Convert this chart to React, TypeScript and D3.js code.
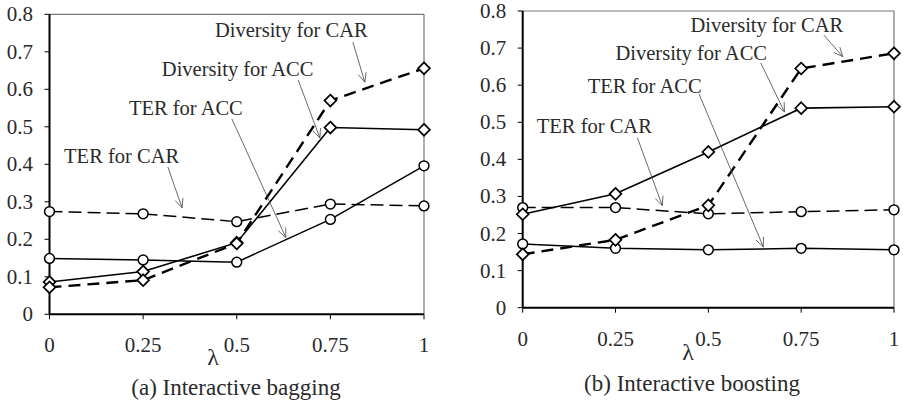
import React from "react";
import * as d3 from "d3";

// λ values on the x axis
const LAMBDA = [0, 0.25, 0.5, 0.75, 1];
const X_TICK_LABELS = ["0", "0.25", "0.5", "0.75", "1"];
const Y_TICKS = [0, 0.1, 0.2, 0.3, 0.4, 0.5, 0.6, 0.7, 0.8];
const Y_TICK_LABELS = ["0", "0.1", "0.2", "0.3", "0.4", "0.5", "0.6", "0.7", "0.8"];

// (a) Interactive bagging
const BAG_TER_CAR = [0.274, 0.268, 0.247, 0.294, 0.289];
const BAG_TER_ACC = [0.149, 0.145, 0.139, 0.253, 0.396];
const BAG_DIV_ACC = [0.086, 0.114, 0.191, 0.498, 0.492];
const BAG_DIV_CAR = [0.072, 0.091, 0.189, 0.57, 0.656];

// (b) Interactive boosting
const BOOST_TER_CAR = [0.27, 0.27, 0.253, 0.259, 0.264];
const BOOST_TER_ACC = [0.172, 0.16, 0.156, 0.16, 0.156];
const BOOST_DIV_ACC = [0.252, 0.307, 0.42, 0.538, 0.542];
const BOOST_DIV_CAR = [0.144, 0.183, 0.276, 0.645, 0.686];

const SERIES_NAMES = ["TER for CAR", "TER for ACC", "Diversity for ACC", "Diversity for CAR"];

// callout placement in data units: [text x, text y, arrow start x, y, arrow tip x, y]
const BAG_CALLOUTS = [
  [0.039, 0.403, 0.316, 0.393, 0.354, 0.284],
  [0.212, 0.531, 0.487, 0.521, 0.631, 0.205],
  [0.3, 0.635, 0.664, 0.625, 0.722, 0.47],
  [0.442, 0.739, 0.81, 0.726, 0.842, 0.619],
];
const BOOST_CALLOUTS = [
  [0.038, 0.471, 0.309, 0.458, 0.376, 0.275],
  [0.175, 0.579, 0.475, 0.576, 0.648, 0.164],
  [0.25, 0.668, 0.641, 0.66, 0.705, 0.528],
  [0.452, 0.743, 0.811, 0.735, 0.862, 0.677],
];

const FONT = "Liberation Serif, DejaVu Serif, Times New Roman, serif";
const TEXT = "#2a2a2a";

type Style = { dash: string | null; width: number; marker: "circle" | "diamond" };
const STYLES: Style[] = [
  { dash: "13,6", width: 1.5, marker: "circle" },
  { dash: null, width: 1.5, marker: "circle" },
  { dash: null, width: 1.6, marker: "diamond" },
  { dash: "12,7", width: 2.4, marker: "diamond" },
];

type PanelProps = {
  x0: number;
  x1: number;
  yTop: number;
  yBottom: number;
  series: number[][];
  callouts: number[][];
  title: string;
  titleX: number;
  titleY: number;
  lambdaX: number;
  lambdaY: number;
};

function Marker({ kind, cx, cy }: { kind: string; cx: number; cy: number }) {
  if (kind === "circle") {
    return <circle cx={cx} cy={cy} r={4.9} fill="#fff" stroke="#000" strokeWidth={1.5} />;
  }
  const s = 5.9;
  const d = `M${cx},${cy - s}L${cx + s},${cy}L${cx},${cy + s}L${cx - s},${cy}Z`;
  return <path d={d} fill="#fff" stroke="#000" strokeWidth={1.7} />;
}

function Panel(p: PanelProps) {
  const x = d3.scaleLinear().domain([0, 1]).range([p.x0, p.x1]);
  const y = d3.scaleLinear().domain([0, 0.8]).range([p.yBottom, p.yTop]);
  const line = d3
    .line<number>()
    .x((_, i) => x(LAMBDA[i]))
    .y((v) => y(v));

  return (
    <g style={{ fontFamily: FONT }}>
      {/* frame */}
      <line x1={p.x0} x2={p.x1} y1={p.yTop} y2={p.yTop} stroke="#777" strokeWidth={1.2} />
      <line x1={p.x1} x2={p.x1} y1={p.yTop} y2={p.yBottom} stroke="#777" strokeWidth={1.2} />
      <line x1={p.x0} x2={p.x0} y1={p.yTop} y2={p.yBottom} stroke="#000" strokeWidth={2} />
      <line x1={p.x0} x2={p.x1} y1={p.yBottom} y2={p.yBottom} stroke="#000" strokeWidth={2} />

      {/* y axis */}
      {Y_TICKS.map((t, i) => (
        <g key={"y" + i}>
          <line x1={p.x0 - 5} x2={p.x0} y1={y(t)} y2={y(t)} stroke="#000" strokeWidth={1} />
          <text x={p.x0 - 16.5} y={y(t) + 7} textAnchor="end" fontSize={21} fill={TEXT}>
            {Y_TICK_LABELS[i]}
          </text>
        </g>
      ))}

      {/* x axis */}
      {LAMBDA.map((t, i) => (
        <g key={"x" + i}>
          <line x1={x(t)} x2={x(t)} y1={p.yBottom} y2={p.yBottom + 5} stroke="#000" strokeWidth={1} />
          <text x={x(t)} y={p.yBottom + 38} textAnchor="middle" fontSize={21} fill={TEXT}>
            {X_TICK_LABELS[i]}
          </text>
        </g>
      ))}
      <text x={p.lambdaX} y={p.lambdaY} textAnchor="middle" fontSize={24} fill={TEXT}>
        λ
      </text>

      {/* series lines */}
      {p.series.map((vals, si) => (
        <path
          key={"l" + si}
          d={line(vals) || ""}
          fill="none"
          stroke="#000"
          strokeWidth={STYLES[si].width}
          strokeDasharray={STYLES[si].dash || undefined}
        />
      ))}

      {/* callouts */}
      {p.callouts.map((c, i) => {
        const sx = x(c[2]);
        const sy = y(c[3]);
        const tx = x(c[4]);
        const ty = y(c[5]);
        const ang = Math.atan2(ty - sy, tx - sx);
        const len = 10;
        const spread = 0.42;
        const a1x = tx - len * Math.cos(ang - spread);
        const a1y = ty - len * Math.sin(ang - spread);
        const a2x = tx - len * Math.cos(ang + spread);
        const a2y = ty - len * Math.sin(ang + spread);
        return (
          <g key={"c" + i}>
            <text x={x(c[0])} y={y(c[1])} fontSize={20.5} fill={TEXT}>
              {SERIES_NAMES[i]}
            </text>
            <line x1={sx} y1={sy} x2={tx} y2={ty} stroke="#444" strokeWidth={0.8} />
            <path
              d={`M${a1x},${a1y}L${tx},${ty}L${a2x},${a2y}`}
              fill="none"
              stroke="#444"
              strokeWidth={0.8}
            />
          </g>
        );
      })}

      {/* markers */}
      {p.series.map((vals, si) =>
        vals.map((v, i) => (
          <Marker key={"m" + si + "-" + i} kind={STYLES[si].marker} cx={x(LAMBDA[i])} cy={y(v)} />
        ))
      )}

      <text x={p.titleX} y={p.titleY} textAnchor="middle" fontSize={23} fill={TEXT}>
        {p.title}
      </text>
    </g>
  );
}

export default function App() {
  return (
    <svg
      width={903}
      height={405}
      style={{ position: "absolute", left: 0, top: 0, background: "#fff" }}
    >
      <rect width={903} height={405} fill="#fff" />
      <Panel
        x0={49.5}
        x1={424}
        yTop={14.3}
        yBottom={314.3}
        series={[BAG_TER_CAR, BAG_TER_ACC, BAG_DIV_ACC, BAG_DIV_CAR]}
        callouts={BAG_CALLOUTS}
        title="(a) Interactive bagging"
        titleX={236}
        titleY={395}
        lambdaX={213}
        lambdaY={365}
      />
      <Panel
        x0={522.7}
        x1={894}
        yTop={11}
        yBottom={307.7}
        series={[BOOST_TER_CAR, BOOST_TER_ACC, BOOST_DIV_ACC, BOOST_DIV_CAR]}
        callouts={BOOST_CALLOUTS}
        title="(b) Interactive boosting"
        titleX={692}
        titleY={391}
        lambdaX={688}
        lambdaY={360}
      />
    </svg>
  );
}
